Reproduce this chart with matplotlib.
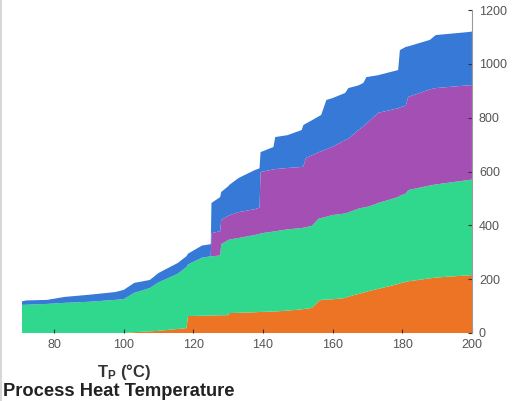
import matplotlib
matplotlib.use("Agg")
import matplotlib.pyplot as plt
from matplotlib.lines import Line2D

plt.rcParams['font.family'] = ['Liberation Sans', 'DejaVu Sans']
plt.rcParams['mathtext.fontset'] = 'custom'
plt.rcParams['mathtext.bf'] = 'Liberation Sans:bold'
plt.rcParams['mathtext.rm'] = 'Liberation Sans'

# process temperature (deg C), repeated-ish values give the steps
temp = [70.0, 72.0, 78.0, 83.0, 90.0, 97.5, 100.0, 103.0, 107.5, 110.0,
        115.5, 118.0, 118.5, 122.5, 125.0, 125.2, 127.7, 128.0, 130.0, 130.3,
        133.0, 137.6, 139.0, 139.3, 143.0, 143.5, 147.0, 151.1, 151.6, 152.3,
        154.0, 156.0, 156.7, 158.2, 159.8, 163.6, 164.5, 167.4, 168.8, 169.7,
        170.8, 173.1, 178.8, 179.3, 181.0, 181.7, 187.9, 189.6, 198.8, 200.0]

# layer thickness, bottom to top
orange = [0, 0, 0, 0, 0, 0, 0, 3, 6, 8,
          15, 18, 63, 64, 65, 65, 66, 66, 66, 74,
          75, 77, 78, 78, 80, 80, 83, 88, 89, 90,
          93, 118, 123, 124, 125, 130, 135, 145, 150, 153,
          157, 164, 182, 184, 190, 192, 203, 206, 214, 215]
green = [104, 105, 108, 112, 116, 123, 126, 146, 161, 180,
         205, 227, 192, 216, 220, 220, 222, 264, 279, 273,
         278, 287, 290, 292, 297, 298, 302, 302, 302, 303,
         305, 307, 304, 308, 313, 314, 313, 317, 316, 315,
         315, 319, 323, 326, 328, 339, 345, 346, 354, 355]
purple = [0, 0, 0, 0, 0, 0, 0, 0, 0, 0,
          0, 0, 0, 0, 0, 86, 90, 90, 90, 90,
          96, 96, 98, 228, 231, 231, 228, 227, 229, 257,
          262, 247, 248, 251, 253, 273, 274, 292, 302, 310,
          319, 335, 330, 328, 327, 346, 357, 358, 352, 351]
blue = [11, 16, 15, 22, 26, 29, 34, 37, 30, 35,
        40, 40, 40, 45, 45, 112, 127, 104, 110, 113,
        127, 145, 146, 74, 83, 119, 122, 137, 153, 128,
        130, 133, 135, 183, 181, 175, 188, 166, 161, 173,
        162, 140, 142, 213, 218, 188, 184, 197, 198, 199]

colors = ['#EC7424', '#2FD88C', '#A44FB4', '#3779D6']

fig = plt.figure(figsize=(5.16, 4.01), dpi=100)
ax = fig.add_axes([0.0426, 0.1696, 0.8721, 0.8054])

ax.stackplot(temp, orange, green, purple, blue, colors=colors, linewidth=0)

ax.set_xlim(70.8, 200)
ax.set_ylim(0, 1200)
ax.set_xticks([80, 100, 120, 140, 160, 180, 200])
ax.set_yticks([0, 200, 400, 600, 800, 1000, 1200])

ax.yaxis.tick_right()
for s in ['left', 'top', 'bottom']:
    ax.spines[s].set_visible(False)
ax.spines['right'].set_color('#9a9a9a')
ax.spines['right'].set_linewidth(0.8)
ax.tick_params(direction='in', length=3, width=0.8, color='#333333',
               labelsize=9, labelcolor='#555555')
ax.tick_params(axis='y', pad=5)
ax.tick_params(axis='x', pad=4)

fig.text(0.24, 0.072, r'$\mathbf{T_P}$ (°C)', ha='center', va='center',
         fontsize=12, fontweight='bold', color='#333333')
fig.text(0.006, 0.024, 'Process Heat Temperature', ha='left', va='center',
         fontsize=13.2, fontweight='bold', color='#222222')

# faint edge line left over from the neighbouring panel
fig.add_artist(Line2D([0.002, 0.002], [0, 1], color='#d0d0d0', lw=1.2,
                      transform=fig.transFigure))

fig.savefig('out.png', dpi=100)
